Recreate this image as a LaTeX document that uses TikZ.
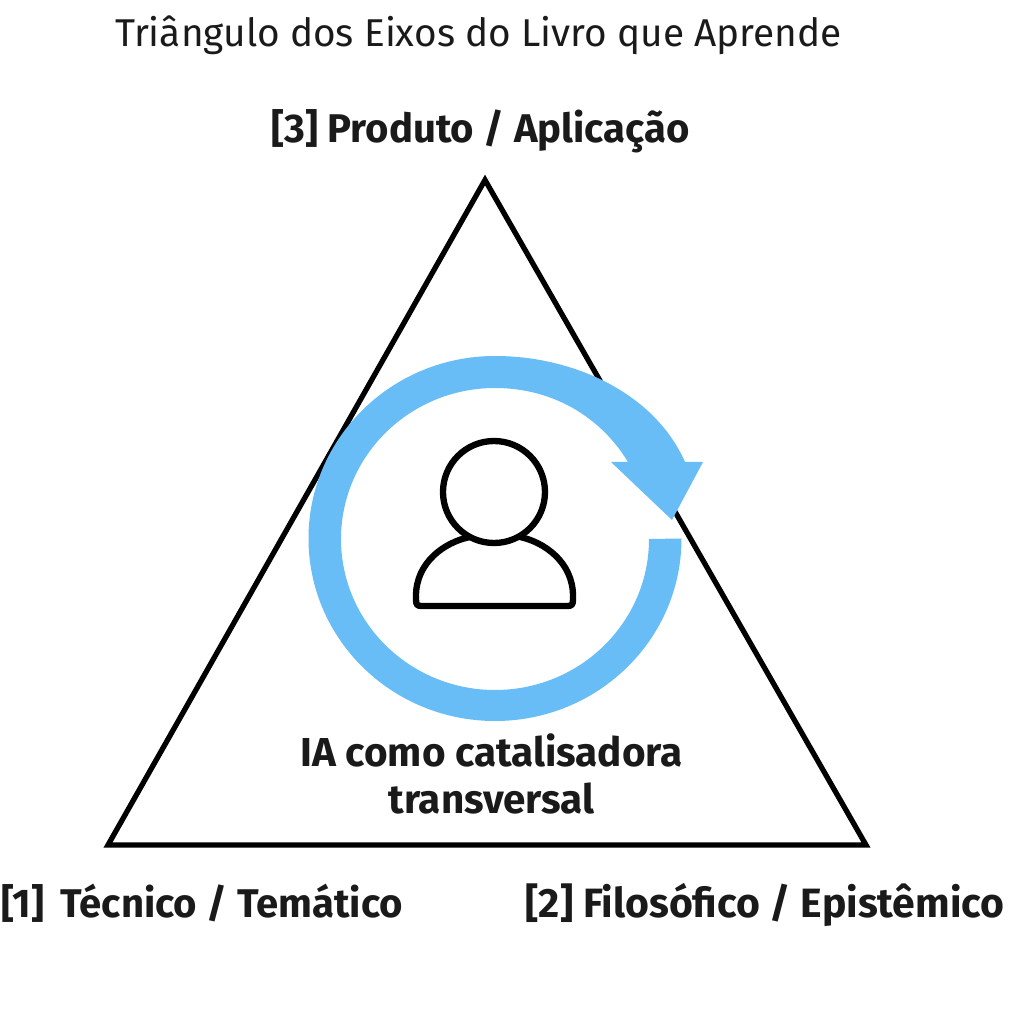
\documentclass[tikz,border=0pt]{standalone}
\usepackage{fontspec}
\setmainfont{Fira Sans}
\usetikzlibrary{positioning}
\definecolor{ringblue}{HTML}{68BDF6}
\definecolor{labelblack}{HTML}{1A1A1A}
\tikzset{
    axislabel/.style = {text=labelblack,font=\bfseries\fontsize{11.4}{13}\selectfont,inner sep=0pt},
    iconline/.style = {draw=black,line width=1.8pt}
}

\begin{document}
\begin{tikzpicture}
        %\draw [help lines] (0,0) grid (10.24,10.24);
        \useasboundingbox (0,0) rectangle (10.24,10.24);

        \node [text=labelblack,font=\fontsize{11.03}{13}\selectfont,inner sep=0pt] (title) at (4.785,9.89) {Triângulo dos Eixos do Livro que Aprende};

        \coordinate (top) at (4.85,8.44);
        \coordinate (left) at (1.08,1.79);
        \coordinate (right) at (8.66,1.79);

        \draw [black,line width=1.5pt,line join=miter] (top) -- (right) -- (left) -- cycle;

        \node [axislabel] (p3) at (4.805,8.93) {[3] Produto / Aplicação};
        \node [axislabel] (p1) at (2.02,1.21) {[1]\, Técnico / Temático};
        \node [axislabel,font=\bfseries\fontsize{11.65}{13}\selectfont] (p2) at (7.65,1.19) {[2] Filosófico / Epistêmico};

        % ring with its arrow head
        \fill [ringblue] (6.49,4.85) arc [start angle=0,end angle=-270,x radius=1.54,y radius=1.51]
            .. controls (5.55,6.36) and (6.02,6.05) .. (6.28,5.62)
            -- (6.11,5.62) -- (6.72,5.04) -- (7.03,5.62) -- (6.85,5.62)
            .. controls (6.55,6.30) and (5.75,6.68) .. (4.95,6.68)
            arc [start angle=90,end angle=360,x radius=1.865,y radius=1.825]
            -- cycle;

        \node [circle,iconline,minimum size=1.02cm,inner sep=0pt] (head) at (4.94,5.32) {};
        \draw [iconline,line join=round] (4.70,4.87) .. controls (4.45,4.82) and (4.16,4.62) .. (4.16,4.28)
            -- (4.16,4.25) .. controls (4.16,4.19) and (4.17,4.18) .. (4.22,4.18)
            -- (5.67,4.18) .. controls (5.72,4.18) and (5.73,4.19) .. (5.73,4.25)
            -- (5.73,4.28) .. controls (5.73,4.62) and (5.44,4.82) .. (5.20,4.87);

        \node [axislabel,align=center,font=\bfseries\fontsize{11.5}{13.3}\selectfont] (ia) at (4.915,2.50) {IA como catalisadora\\transversal};

\end{tikzpicture}
\end{document}
